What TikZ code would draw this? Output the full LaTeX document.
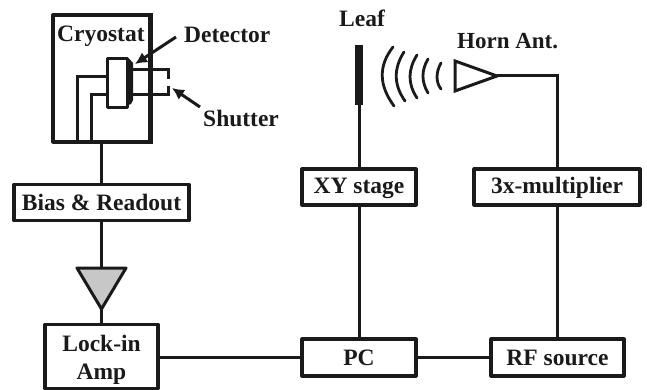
\documentclass[tikz,border=0pt]{standalone}
\usepackage{fontspec}
\setmainfont{Liberation Serif}
\usetikzlibrary{arrows.meta}
\definecolor{ink}{HTML}{1A1A1A}
\tikzset{
 wire/.style={draw=ink,line width=3pt},
 boxn/.style={draw=ink,line width=3.2pt,line join=round,fill=white,inner sep=0pt,font=\fontsize{23.5}{28}\selectfont\bfseries,text=ink,align=center},
 boxtext/.style={inner sep=0pt,font=\fontsize{23.5}{28}\selectfont\bfseries,text=ink,align=center},
 lab/.style={inner sep=0pt,font=\fontsize{23.5}{28}\selectfont\bfseries,text=ink,anchor=base west},
 pointer/.style={draw=ink,line width=3pt,-{Latex[length=12pt,width=12pt]}},
 wave/.style={draw=ink,line width=2.8pt,line cap=round},
}
\begin{document}
\begin{tikzpicture}[x=1pt,y=-1pt]
\useasboundingbox (0,0) rectangle (647,390);
% Boxes
\node[boxn,minimum width=97pt,minimum height=127pt] (cryo) at (101.5,78.5) {};
\node[boxn,minimum width=175pt,minimum height=36pt] (bias) at (101.5,202.5) {Bias \& Readout};
\node[boxn,minimum width=113pt,minimum height=64pt] (lock) at (101.5,356.5) {};
\node[boxtext] (tlock) at (101.5,360) {Lock-in\\Amp};
\node[boxn,minimum width=114pt,minimum height=37pt] (pc) at (359,357.5) {PC};
\node[boxn,minimum width=114pt,minimum height=36pt] (xy) at (359,187) {};
\node[boxtext] (txy) at (359,188) {XY stage};
\node[boxn,minimum width=133pt,minimum height=37pt] (rf) at (557.5,357.5) {RF source};
\node[boxn,minimum width=166pt,minimum height=36pt] (mult) at (557,187) {};
\node[boxtext] (tmult) at (557,188) {3x-multiplier};
% Detector assembly
\coordinate (wa) at (77,142); \coordinate (wb) at (91,142);
\draw[wire] (wa) -- (77,77) -- (107,77);
\draw[wire] (wb) -- (91,95) -- (107,95);
\draw[wire] (133,70) -- (168,70) -- (168,79);
\draw[wire] (133,95) -- (168,95) -- (168,86);
\node[draw=ink,line width=3pt,line join=round,fill=white,minimum width=20pt,minimum height=49pt,inner sep=0pt] (holder) at (117,83) {};
\fill[ink] (126,58) -- (129,58.5) -- (133,63) -- (133,100) -- (131,104) -- (126,106) -- cycle;
\draw[wire] (cryo.north east) -- (cryo.south east);
% Labels
\node[lab] (tcryo) at (57,42) {Cryostat};
\node[lab] (tdet) at (184,43) {Detector};
\node[lab] (tshut) at (203,127) {Shutter};
\node[lab] (tleaf) at (339,27) {Leaf};
\node[lab,font=\fontsize{23}{28}\selectfont\bfseries] (thorn) at (457,49) {Horn Ant.};
% Pointers
\coordinate (pd0) at (176,37); \coordinate (pd1) at (135,64);
\coordinate (ps0) at (200,107); \coordinate (ps1) at (172,88);
\draw[pointer] (pd0) -- (pd1);
\draw[pointer] (ps0) -- (ps1);
% Amplifier
\coordinate (ampw) at (77,268); \coordinate (ampe) at (126,268); \coordinate (amps) at (101.5,309);
\coordinate (ampn) at (101.5,268);
\draw[draw=ink,line width=3pt,fill=black!22,line join=round] (ampw) -- (ampe) -- (amps) -- cycle;
% Leaf
\coordinate (leaft) at (359,45); \coordinate (leafb) at (359,105);
\draw[draw=ink,line width=8pt] (leaft) -- (leafb);
% Horn
\coordinate (hn) at (455,61); \coordinate (hs) at (455,91); \coordinate (ht) at (497,76);
\draw[draw=ink,line width=3pt] (hn) -- (ht) -- (hs) -- cycle;
\coordinate (corner) at (557,76);
% Waves
\draw[wave] (393,47) .. controls (378.3,65.7) and (378.7,85.3) .. (394,106);
\draw[wave] (404,52) .. controls (393.3,68.7) and (393.7,85) .. (405,101);
\draw[wave] (417,55) .. controls (407.7,69.7) and (407.7,84) .. (417,98);
\draw[wave] (428,59) .. controls (421.3,70.3) and (421.3,81.7) .. (428,93);
\draw[wave] (441,63) .. controls (435.7,72.3) and (435.7,82.3) .. (441,89);
% Connectors
\draw[wire] (cryo.south) -- (bias.north);
\draw[wire] (bias.south) -- (ampn);
\draw[wire] (amps) -- (lock.north);
\draw[wire] (lock.east |- pc.west) -- (pc.west);
\draw[wire] (pc.east) -- (rf.west);
\draw[wire] (pc.north) -- (xy.south);
\draw[wire] (xy.north) -- (leafb);
\draw[wire] (rf.north -| mult.south) -- (mult.south);
\draw[wire] (mult.north) -- (corner) -- (ht);
\end{tikzpicture}
\end{document}
